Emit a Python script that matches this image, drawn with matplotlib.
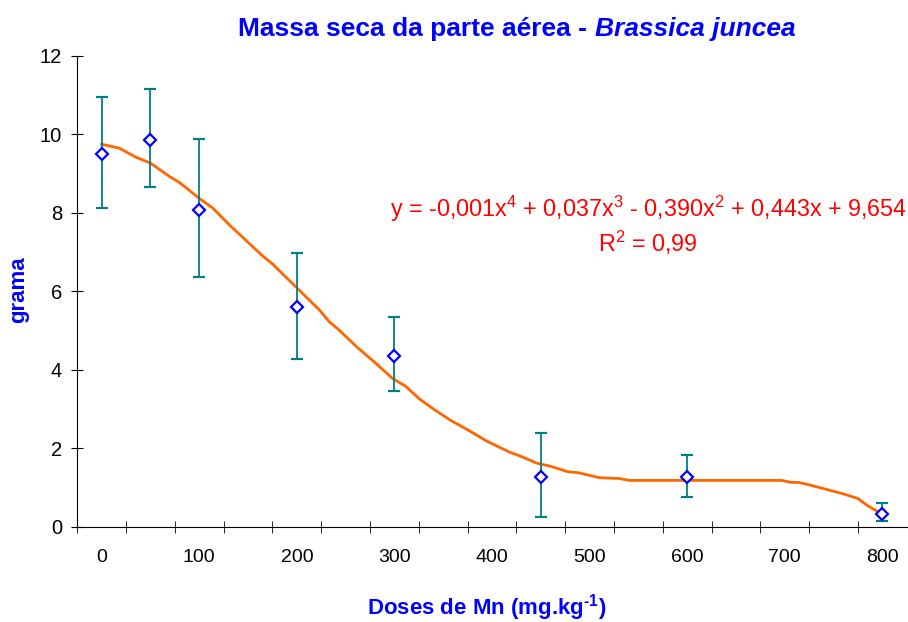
import numpy as np
import matplotlib.pyplot as plt
from matplotlib.ticker import FixedLocator

plt.rcParams['font.family'] = ['Liberation Sans', 'DejaVu Sans']
plt.rcParams['mathtext.fontset'] = 'custom'
plt.rcParams['mathtext.rm'] = 'Liberation Sans'
plt.rcParams['mathtext.bf'] = 'Liberation Sans:bold'

# mean dry mass of shoots (g) per Mn dose
doses = [0, 50, 100, 200, 300, 450, 600, 800]
mass = [9.50, 9.85, 8.07, 5.61, 4.34, 1.27, 1.27, 0.32]
err_low = [1.37, 1.20, 1.71, 1.34, 0.89, 1.03, 0.52, 0.18]
err_high = [1.45, 1.30, 1.81, 1.36, 1.00, 1.11, 0.55, 0.28]

# fitted curve as drawn
trend_x = [0, 18, 35, 50, 70, 80, 100, 114, 131, 141, 165, 175, 200, 223, 233,
           243, 262, 278, 298, 311, 326, 340, 357, 380, 394, 418, 428, 446, 460,
           478, 488, 510, 530, 541, 697, 706, 714, 726, 743, 758, 775, 784, 800]
trend_y = [9.75, 9.65, 9.42, 9.27, 8.92, 8.77, 8.37, 8.12, 7.69, 7.46, 6.90, 6.70,
           6.09, 5.53, 5.23, 5.02, 4.57, 4.23, 3.78, 3.59, 3.25, 3.00, 2.72, 2.40,
           2.19, 1.90, 1.81, 1.62, 1.54, 1.40, 1.38, 1.25, 1.23, 1.18, 1.18, 1.13,
           1.13, 1.06, 0.95, 0.85, 0.72, 0.55, 0.32]

x_labels = [0, 100, 200, 300, 400, 500, 600, 700, 800]
y_ticks = [0, 2, 4, 6, 8, 10, 12]

blue = '#0000FF'
fig = plt.figure(figsize=(9.08, 6.22), dpi=100)
ax = fig.add_axes([0.0851, 0.1532, 0.9135, 0.7568])

ax.plot(trend_x, trend_y, color='#FF6600', lw=2, zorder=2)
ax.errorbar(doses, mass, yerr=[err_low, err_high], fmt='D', color='#008080',
            ecolor='#008080', elinewidth=1.3, capsize=4, capthick=3,
            markersize=6, markerfacecolor='white', markeredgecolor=blue,
            markeredgewidth=1.6, zorder=3)

ax.set_xlim(-25, 825)
ax.set_ylim(0, 12)
ax.spines['top'].set_visible(False)
ax.spines['right'].set_visible(False)

ax.set_xticks(x_labels)
ax.xaxis.set_minor_locator(FixedLocator(np.arange(-25, 800, 50)))
ax.tick_params(axis='x', which='major', length=0, pad=16, labelsize=14)
ax.tick_params(axis='x', which='minor', direction='inout', length=8)
ax.set_yticks(y_ticks)
ax.tick_params(axis='y', direction='inout', length=8, pad=7, labelsize=14.5)

fig.text(0.655, 0.953, 'Massa seca da parte aérea - ', color=blue,
         fontsize=19, fontweight='bold', ha='right', va='center')
fig.text(0.655, 0.953, 'Brassica juncea', color=blue, fontsize=19,
         fontweight='bold', style='italic', ha='left', va='center')

fig.text(0.536, 0.024, 'Doses de Mn (mg.kg$^{\\mathbf{\u20101}}$)', color=blue,
         fontsize=16, fontweight='bold', ha='center', va='center')
fig.text(0.02, 0.534, 'grama', color=blue, fontsize=16, fontweight='bold',
         rotation=90, ha='center', va='center')

ax.text(0.714, 0.664, r'y = -0,001x$^4$ + 0,037x$^3$ - 0,390x$^2$ + 0,443x + 9,654',
        transform=fig.transFigure, color='red', fontsize=16.8, ha='center', va='center')
ax.text(0.714, 0.609, r'R$^2$ = 0,99', transform=fig.transFigure, color='red',
        fontsize=16.8, ha='center', va='center')

fig.savefig('out.png', dpi=100)
